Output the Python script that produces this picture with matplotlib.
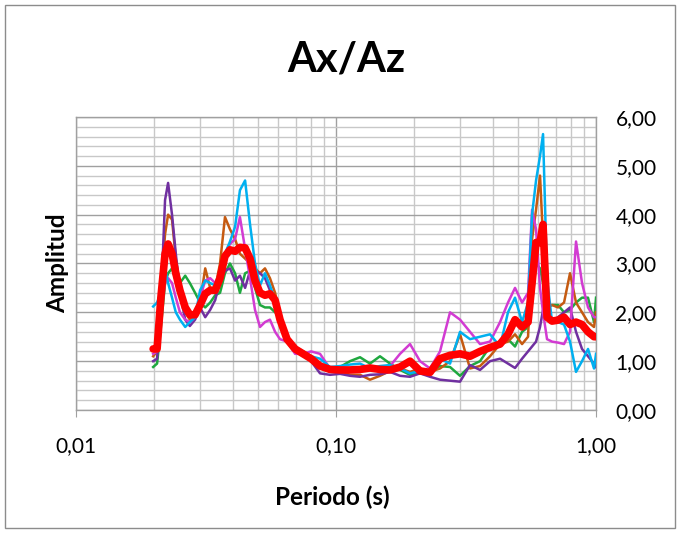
import numpy as np
import matplotlib
matplotlib.use("Agg")
import matplotlib.pyplot as plt
from matplotlib.ticker import FixedLocator, FuncFormatter, NullFormatter
from matplotlib.patches import Rectangle

periodo = [0.0198, 0.0205, 0.0212, 0.0220, 0.0226, 0.0234, 0.0242, 0.0251, 0.0263, 0.0274,
           0.0287, 0.0300, 0.0314, 0.0328, 0.0343, 0.0358, 0.0374, 0.0391, 0.0409, 0.0427,
           0.0447, 0.0467, 0.0488, 0.0510, 0.0533, 0.0557, 0.0583, 0.0609, 0.0648, 0.0696,
           0.0747, 0.0802, 0.0868, 0.0948, 0.1036, 0.1132, 0.1237, 0.1351, 0.1476, 0.1613,
           0.1763, 0.1926, 0.2104, 0.2299, 0.2512, 0.2745, 0.2999, 0.3277, 0.3580, 0.3912,
           0.4274, 0.4586, 0.4881, 0.5194, 0.5478, 0.5675, 0.5879, 0.6090, 0.6255, 0.6480,
           0.6773, 0.7142, 0.7533, 0.7943, 0.8377, 0.8834, 0.9316, 0.9824, 1.0]

morado = [1.00, 1.05, 2.20, 4.30, 4.65, 4.00, 3.20, 2.40, 1.85, 1.72,
          1.85, 2.10, 1.90, 2.05, 2.25, 2.65, 2.85, 2.90, 2.65, 2.75,
          2.50, 2.85, 2.85, 2.80, 2.70, 2.45, 2.10, 1.75, 1.40, 1.20,
          1.15, 1.00, 0.75, 0.72, 0.74, 0.70, 0.68, 0.72, 0.73, 0.78,
          0.70, 0.68, 0.75, 0.68, 0.62, 0.60, 0.58, 0.92, 0.82, 1.00,
          1.05, 0.95, 0.86, 1.05, 1.20, 1.30, 1.40, 1.70, 2.05, 1.85,
          1.82, 1.90, 2.00, 2.10, 1.60, 1.25, 1.10, 0.95, 0.88]

naranja = [1.10, 1.20, 2.40, 3.60, 4.00, 3.90, 3.10, 2.50, 2.00, 1.85,
           1.90, 2.20, 2.90, 2.50, 2.50, 3.00, 3.95, 3.70, 3.50, 3.20,
           3.10, 3.00, 2.90, 2.80, 2.90, 2.70, 2.40, 1.95, 1.45, 1.25,
           1.20, 1.05, 0.90, 0.80, 0.80, 0.72, 0.72, 0.62, 0.70, 0.80,
           0.85, 0.78, 0.85, 0.78, 0.85, 1.00, 1.55, 0.85, 0.90, 1.10,
           1.35, 1.40, 1.55, 1.35, 1.50, 3.50, 4.10, 4.80, 3.50, 2.10,
           2.15, 2.10, 2.20, 2.80, 2.20, 2.00, 1.80, 1.70, 2.00]

celeste = [2.12, 2.20, 2.40, 2.90, 2.60, 2.30, 2.00, 1.85, 1.70, 1.80,
           1.90, 2.45, 2.65, 2.60, 2.55, 2.70, 3.20, 3.45, 3.75, 4.50,
           4.70, 3.80, 3.00, 2.55, 2.80, 2.55, 2.25, 1.90, 1.45, 1.30,
           1.20, 1.10, 1.05, 0.88, 0.90, 0.93, 0.95, 0.85, 0.90, 0.92,
           0.85, 0.75, 0.80, 0.72, 1.05, 0.95, 1.60, 1.45, 1.50, 1.55,
           1.30, 2.00, 2.30, 1.80, 2.20, 4.00, 4.70, 5.20, 5.65, 2.70,
           1.80, 1.80, 1.75, 1.40, 0.78, 1.00, 1.25, 0.85, 1.15]

verde = [0.88, 0.95, 1.70, 2.60, 2.80, 2.90, 2.65, 2.60, 2.75, 2.60,
         2.40, 2.20, 2.10, 2.20, 2.35, 2.40, 2.80, 3.00, 2.80, 2.40,
         2.80, 2.85, 2.50, 2.15, 2.10, 2.10, 2.00, 1.95, 1.45, 1.25,
         1.20, 1.05, 0.95, 0.85, 0.88, 1.00, 1.08, 0.95, 1.10, 0.95,
         0.82, 0.72, 0.75, 0.80, 0.90, 0.88, 0.70, 0.90, 1.00, 1.30,
         1.30, 1.45, 1.30, 1.60, 1.70, 2.20, 3.00, 2.90, 2.60, 2.10,
         2.15, 2.15, 2.00, 2.05, 2.20, 2.30, 2.30, 1.80, 2.30]

magenta = [1.15, 1.20, 2.00, 2.60, 2.70, 2.60, 2.30, 2.00, 1.85, 1.80,
           1.90, 2.30, 2.65, 2.70, 2.60, 2.80, 3.20, 3.40, 3.50, 3.95,
           3.30, 2.70, 2.05, 1.70, 1.80, 1.85, 1.60, 1.45, 1.40, 1.15,
           1.15, 1.20, 1.15, 0.85, 0.85, 0.85, 0.82, 0.85, 0.82, 0.90,
           1.15, 1.35, 1.00, 0.85, 1.20, 2.00, 1.85, 1.60, 1.35, 1.40,
           1.80, 2.20, 2.50, 2.20, 2.40, 4.10, 3.70, 2.50, 2.00, 1.45,
           1.40, 1.38, 1.35, 1.60, 3.45, 2.60, 2.10, 1.90, 1.90]

promedio = [1.25, 1.25, 2.30, 3.20, 3.40, 3.20, 2.80, 2.45, 2.10, 1.95,
            1.95, 2.15, 2.38, 2.45, 2.45, 2.70, 3.15, 3.28, 3.25, 3.33,
            3.32, 3.10, 2.65, 2.40, 2.35, 2.38, 2.25, 1.85, 1.45, 1.25,
            1.15, 1.05, 0.90, 0.83, 0.82, 0.82, 0.83, 0.86, 0.83, 0.82,
            0.88, 1.00, 0.80, 0.77, 1.05, 1.12, 1.15, 1.10, 1.20, 1.28,
            1.35, 1.55, 1.85, 1.70, 1.80, 2.60, 3.43, 3.43, 3.80, 1.90,
            1.82, 1.84, 1.90, 1.75, 1.80, 1.75, 1.60, 1.50, 1.50]

font = "Lato"
plt.rcParams["font.family"] = [font, "DejaVu Sans"]

fig = plt.figure(figsize=(6.8, 5.33), dpi=100)
ax = fig.add_axes([0.1118, 0.2308, 0.7647, 0.5497])

series = [
    (verde, "#1FA83F"),
    (naranja, "#C55A11"),
    (morado, "#7030A0"),
    (magenta, "#D23BD2"),
    (celeste, "#00B0F0"),
]
for vals, col in series:
    ax.plot(periodo, vals, color=col, lw=1.8, zorder=3)
ax.plot(periodo, promedio, color="#FF0000", lw=5.5, zorder=4,
        solid_joinstyle="round", solid_capstyle="round")

ax.set_xscale("log")
ax.set_xlim(0.01, 1.0)
ax.set_ylim(0, 6)

# grid like Excel: major darker, minor lighter
ax.yaxis.set_major_locator(FixedLocator([0, 1, 2, 3, 4, 5, 6]))
ax.yaxis.set_minor_locator(FixedLocator([i * 0.2 for i in range(31)]))
ax.grid(which="minor", color="#C8C8C8", lw=1.0)
ax.grid(which="major", color="#A0A0A0", lw=1.0)
ax.set_axisbelow(True)

ax.yaxis.tick_right()
ax.yaxis.set_major_formatter(FuncFormatter(lambda v, p: f"{v:.2f}".replace(".", ",")))
ax.xaxis.set_major_formatter(FuncFormatter(lambda v, p: f"{v:.2f}".replace(".", ",")))
ax.xaxis.set_minor_formatter(NullFormatter())
ax.tick_params(axis="y", which="both", length=0, pad=14, labelsize=15)
ax.tick_params(axis="x", which="major", length=5, color="#A0A0A0", pad=14, labelsize=15)
ax.tick_params(axis="x", which="minor", length=0)

for s in ax.spines.values():
    s.set_color("#A0A0A0")
    s.set_linewidth(1.0)

fig.text(346 / 680, 1 - 60 / 533, "Ax/Az", ha="center", va="center",
         fontsize=30, fontweight="bold")
fig.text(332 / 680, 1 - 497 / 533, "Periodo (s)", ha="center", va="center",
         fontsize=17.5, fontweight="bold")
fig.text(58 / 680, 1 - 263 / 533, "Amplitud", ha="center", va="center",
         rotation=90, fontsize=17.5, fontweight="bold")

# chart area border
fig.patches.append(Rectangle((5 / 680, 5 / 533), 670 / 680, 523 / 533,
                             transform=fig.transFigure, fill=False,
                             edgecolor="#8C8C8C", lw=1.0))

fig.savefig("out.png", dpi=100)
